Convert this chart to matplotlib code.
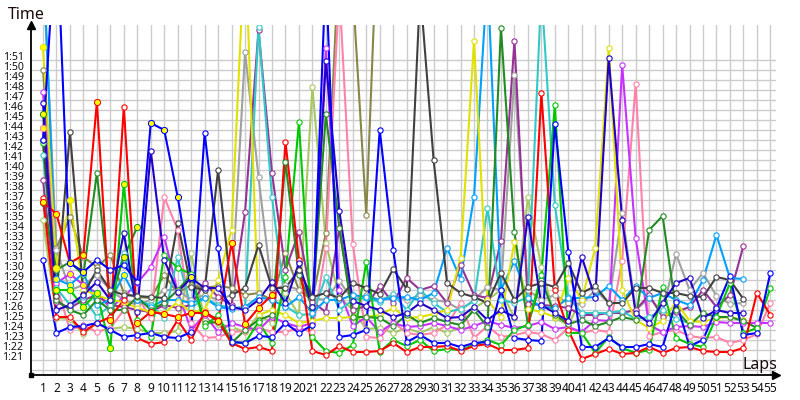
import matplotlib
matplotlib.use("Agg")
import matplotlib.pyplot as plt
from matplotlib.transforms import ScaledTranslation

laps = list(range(1, 56))
seconds_ticks = list(range(81, 112))
tick_labels = [f"{s // 60}:{s % 60:02d}" for s in seconds_ticks]

blue = [91,83.7,84.3,84.4,84.7,84,83.3,83.5,83.7,83.3,83.2,83.8,103.7,92.2,82.8,82.7,83.4,83.3,84.7,83.7,84.5,120,83.3,83.5,84,104,92,82.8,83.5,82.7,82.7,82.3,82.7,82.8,88,83.2,83,82.9,104.6,91.8,82.3,82.3,83.2,82.3,82.3,82.6,82.3,86.8,82.4,83,86.2,89.4,83.5,83.7,89.7]
dark_blue = [106.7,86,86.5,87.5,88.8,87,93.7,85.8,101.9,91,87.8,89.2,88.2,88.2,86.3,86,87,88.8,86.7,90.7,86.3,110.9,95.9,86.9,86.4,86,85.3,85.7,86.7,86,85.2,85.3,86.3,85,86,85.3,95.3,86.5,85.7,84.9,91.3,87.2,111.2,95,85.7,84.7,86.7,88.7,89.2,85.2,86,85.7,85.7]
blue_short = [103,125,90.7,89.8,91,90,90.5,88.8,104.7,104,97.3,89.3]
red = [97.2,85.3,85.3,83.8,84.7,85.3,87,83.2,82.6,82.8,85,83,85.8,85,82.7,82.1,82.3,81.9,102.8,91,81.9,81.5,82.4,81.8,81.8,81.9,82.7,81.8,82.3,82.3,82.4,81.9,82.4,82.6,82,82,82.2,107.7,88,84,81.1,81.6,82.1,81.6,81.7,82.3,81.7,82.2,82.3,81.9,81.8,81.8,82.2,87.7,85.5]
red_short = [96.8,95.6,90.7,91.5,106.8,85,106.3,84.7,85.8,85.6,85.3,85.7,85.7,84.9,92.7,84.6,86.2,87.5]
green = [102.7,88,88,86.3,87.7,82.2,98.6,85,83.3,91.5,90.2,89.6,84.4,85.5,82.8,82.7,84.8,82.7,89.3,104.8,83.3,81.9,81.7,82.5,90.8,81.8,83,82.4,83,81.9,82.1,82,82.5,83,82.5,84,84.5,89.5,106.5,83.7,83.7,81.7,83.3,82.2,81.7,82,88.3,83.2,82.6,82.3,85.3,88.7,83.7,84.2,88.2]
forest_short = [96.7,90,90.8,89.5,99.7,87,91.3,94.3]
forest = [105.6,87,86,85.5,87,86,86,87.3,86,86.7,88,89.5,84.7,84.8,82.7,84,85,85.5,100.8,89.5,86.3,105.6,94.2,85.3,85.3,85.2,84.4,85.5,84.7,85.2,84.8,84.5,86,84.3,114.2,93.8,84.5,89,85.5,84.6,85,84.4,84.8,85.3,85,94,95.4,86,84.5,85.7,85.3,85.3,84.9,84.2]
dark_gray = [103,87.4,103.8,87.6,90,88,87.5,87.4,87.3,87.2,94.7,88.3,88,100,87.5,88.2,92.5,88.2,88.2,90,87.3,87.7,87.2,88.7,88.2,87.6,90.1,88.1,118,101,88.7,87.7,87.3,86.7,89.7,87,88.3,88.7,88.3,90.7,87.7,88.4,86.7,86.7,88.2,88.2,87.7,87.7,87.4,87.3,89.3,89,87.1]
purple = [99,86.8,86.2,87,87.5,86.5,86.3,86,85.8,86.5,86.2,86.5,88.7,87.3,86.5,95.8,114,99.7,90,93.8,86.8,85.8,94.2,86,86.4,88.4,86.7,89.2,88,88.4,86.7,90.5,87.5,87.2,92.9,112.9,86.6,86.5,86.4,86.2,85.5,85.5,85.7,85.7,86,87.5,85.3,85.8,86.3,88,86.3,87.5,92.4]
magenta = [107.8,88.7,89.6,88.5,87.7,86.2,87.3,88.7,90.3,93.3,87.8,84,85.5,83.8,84.7,84.3,84,85.3,84.7,84.3,84.7,112.2,88,84.4,85.3,83.8,84.7,84.3,84.4,84.7,84.4,84,84.4,84.9,84.5,84.2,84.4,84.8,84.1,84.3,83.8,85,84.9,110.5,93.2,84.5,83.8,84.3,84.4,84.3,84.8,84.7,84.7,84.7,84.7]
pink = [104.2,88.5,84,84.5,83.8,84.2,86,87.3,85.2,97.3,94,84.7,83.2,83.3,83.8,83.9,84.2,83.8,83.8,84.2,83.8,92.2,118,92.6,83.3,83.2,84.8,83.7,83.5,83.7,84.5,86.7,83.2,84.4,83.3,83.5,83.8,83.6,83,84.2,83.7,84,83.8,90.9,108.6,83.4,83.8,84,83.4,83.2,83.3,82.7,83,83.6,86.7]
yellow = [112.3,90.2,97,88,87.5,87,86.8,86.2,85.8,85.7,86.8,85.8,86,89,94,122.9,85.5,86,85.5,84.7,84.9,85.2,85.2,85.3,85.3,85.5,86.2,85.2,85.3,85.6,86,91.2,112.9,87,85.3,92.8,86.1,85.8,85.3,89.2,87,92.2,112.2,88,85,84.2,84.9,86.8,84.9,84.8,85.2,85.3,85]
sky = [122,89.1,88.5,89.7,86.5,87,89.5,87,86.3,87,87,86.7,87.2,86.3,86.1,86.3,87.3,87,86.3,87.3,85.7,87,87,87.5,87.3,87,87.2,87.3,87,87.7,92.2,89.1,97.3,119.5,88,90.9,87.2,86.3,86.2,87.2,87.2,87.3,88.4,87,88.4,87.2,87.7,87,86.5,89,93.5,89.2,89.1]
teal = [101.5,88.2,86.5,87.3,85.3,86.5,91.7,87,86.5,85.2,91.3,86.2,87.2,86.5,86.2,86.3,114.3,97.3,86.4,85.5,85.6,89.3,86,87,87.2,86.8,87.6,86,88,86.7,85.8,86.1,86.9,96.2,87,86.7,87.3,118,96.5,87.3,85.7,85.7,85.7,85.9,85.1,85.3,86,85.1,84.7]
gray = [120,92,88,88.5,89.5,88,87,86.5,87,88,88,87,87.5,87,87.5,111.8,99.3,88,88.5,88,87.2,87,88.9,87,87.5,87,87.5,87,87.5,87,86.8,86,87,88.3,88,109.5,88,87,87.5,86.7,86.6,88,86.7,95.7,86,87.2,85.8,91.6,88,89.7,87.4,86.6,86.7]
olive = [110,92.2,95.3,91.3,90.3,91.5,87.7,87.3,87.2,89.5,87.7,88.5,88.2,88.4,88.2,87.5,87.7,87,91.7,88,87,93.7,122,118,95.5,130]
light_olive = [95,85.2,85.1,83.6,84.7,84.1,84.3,84.1,83.7,83.7,83.9,91.7,85,84.6,84.3,83.8,85.5,84.7,87.7,85.5,108.3,92.7,87.3,86,84.1,84.2,83.7,84.2,83.7,84.3,83.7,84.3,86.2,87,88,85.2,97.3,90.3,85.2,84.5,87.2]

series = [
    (light_olive, "#a8c864"), (olive, "#87874a"), (gray, "#a0a0a0"), (pink, "#ff82aa"),
    (magenta, "#c832ff"), (purple, "#963296"), (teal, "#32c8c8"), (sky, "#00a0ff"),
    (yellow, "#e1e100"), (forest, "#228b22"), (forest_short, "#228b22"), (green, "#00c800"),
    (dark_gray, "#404040"), (red_short, "#ff0000"), (red, "#ff0000"),
    (blue_short, "#0000ff"), (dark_blue, "#2000c8"), (blue, "#0000ff"),
]
yellow_laps = {
    id(yellow): {1, 2, 3}, id(green): {2, 3, 4, 5, 6, 7}, id(forest_short): {7, 8}, id(forest): {1},
    id(red_short): {1, 2, 4, 5, 6, 8, 9, 10, 11, 12, 13, 14, 15, 16, 17, 18},
    id(blue_short): {3, 4, 9, 10, 11, 12}, id(pink): {1},
    id(magenta): {3, 4}, id(sky): {2, 3, 4, 7},
}

fig = plt.figure(figsize=(8, 4), dpi=100, facecolor="white")
ax = fig.add_axes([30.5 / 800, 25 / 400, 745.5 / 800, 350 / 400])
ax.set_xlim(0.072, 55.42)
ax.set_ylim(79.5, 114.5)

ax.set_xticks(laps, [str(k) for k in laps], fontsize=8.6, family="Noto Sans", color="#101010")
ax.set_yticks(seconds_ticks, tick_labels, fontsize=7.6, family="Noto Sans", color="#101010")
ax.tick_params(length=0, pad=5)
ax.tick_params(axis="x", pad=5)
shift = ScaledTranslation(0, 4.5 / 100, fig.dpi_scale_trans)
for lab in ax.get_yticklabels():
    lab.set_transform(lab.get_transform() + shift)
ax.grid(True, color="#cccccc", lw=1.0, zorder=0)
ax.axhline(80, color="#cccccc", lw=1.0, zorder=0)
ax.set_axisbelow(True)
for side in ("top", "right"):
    ax.spines[side].set_visible(False)
for side in ("left", "bottom"):
    ax.spines[side].set_linewidth(1.3)

for values, colour in series:
    xs = laps[:len(values)]
    ax.plot(xs, values, color=colour, lw=1.5, solid_joinstyle="miter", zorder=3)
    ax.plot(xs, values, ls="none", marker="o", ms=3.8, mew=0.8, mec=colour, mfc="white", zorder=4)
    marked = sorted(yellow_laps.get(id(values), ()))
    if marked:
        ax.plot(marked, [values[k - 1] for k in marked], ls="none", marker="o", ms=4.4, mew=0.7,
                mec=colour, mfc="#ffff00", zorder=5)

ax.plot(0, 1, "^", color="black", ms=6, transform=ax.transAxes, clip_on=False, zorder=6)
ax.plot(1, 0, ">", color="black", ms=6, transform=ax.transAxes, clip_on=False, zorder=6)
ax.plot(0, 0, "s", color="black", ms=3, transform=ax.transAxes, clip_on=False, zorder=6)
fig.text(8 / 800, 1 - 15 / 400, "Time", fontsize=11.5, family="Noto Sans", va="center", color="#1a0a0a")
fig.text(743 / 800, 1 - 365 / 400, "Laps", fontsize=11.5, family="Noto Sans", va="center", color="#1a0a0a")

fig.savefig("out.png", dpi=100, facecolor="white")
